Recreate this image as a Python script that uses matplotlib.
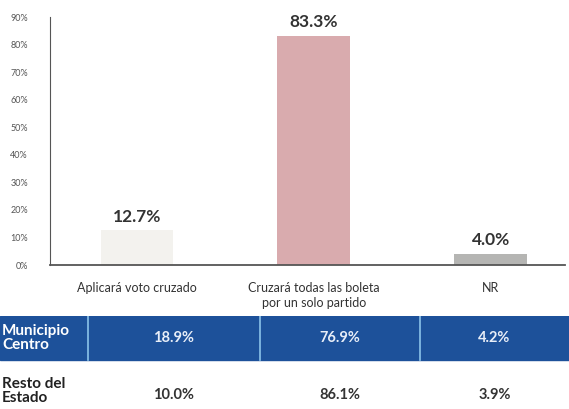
import matplotlib.pyplot as plt
from matplotlib.patches import Rectangle

plt.rcParams['font.family'] = ['Lato', 'DejaVu Sans']

# Chart data
categories = ['Aplicará voto cruzado', 'Cruzará todas las boleta\npor un solo partido', 'NR']
values = [12.7, 83.3, 4.0]
bar_colors = ['#f3f2ee', '#d9abae', '#b5b5b3']
yticks = list(range(0, 100, 10))

# Table data
row_labels = ['Municipio\nCentro', 'Resto del\nEstado']
municipio_centro = ['18.9%', '76.9%', '4.2%']
resto_estado = ['10.0%', '86.1%', '3.9%']

fig = plt.figure(figsize=(5.69, 4.09), dpi=100)

# bar chart
ax = fig.add_axes([0.088, 0.352, 0.905, 0.606])
x = range(len(categories))
ax.bar(x, values, width=0.41, color=bar_colors)
for xi, v in zip(x, values):
    ax.annotate(f'{v:.1f}%', (xi, v), xytext=(0, 4), textcoords='offset points',
                ha='center', va='bottom', fontsize=12.5, fontweight='bold', color='#333333')
ax.set_xlim(-0.49, 2.42)
ax.set_ylim(0, 90)
ax.set_yticks(yticks)
ax.set_yticklabels([f'{t}%' for t in yticks], fontsize=6.5, color='#555555')
ax.set_xticks(list(x))
ax.set_xticklabels(categories, fontsize=9, color='#333333', linespacing=1.35)
ax.tick_params(length=0, pad=16)
ax.tick_params(axis='x', pad=12)
for s in ['top', 'right']:
    ax.spines[s].set_visible(False)
ax.spines['left'].set_color('#555555')
ax.spines['bottom'].set_color('#555555')
ax.spines['bottom'].set_linewidth(1.3)

# table below
tax = fig.add_axes([0, 0, 1, 1 - 316 / 409])
tax.set_xlim(0, 569)
tax.set_ylim(93, 0)
tax.axis('off')
col_edges = [0, 88, 260, 420, 569]
tax.add_patch(Rectangle((0, 0), 569, 44, color='#1d519a'))
for xe in col_edges[1:-1]:
    tax.plot([xe, xe], [0, 44], color='#8cc4ea', lw=1.2)
tax.text(2, 22, row_labels[0], ha='left', va='center', color='white',
         fontsize=11, fontweight='bold', linespacing=1.0)
tax.text(2, 75, row_labels[1], ha='left', va='center', color='#222222',
         fontsize=11, fontweight='bold', linespacing=1.05)
for i in range(3):
    cx = (col_edges[i + 1] + col_edges[i + 2]) / 2
    tax.text(cx, 22, municipio_centro[i], ha='center', va='center', color='#e8eef8',
             fontsize=10.5, fontweight='bold')
    tax.text(cx, 79, resto_estado[i], ha='center', va='center', color='#333333',
             fontsize=10.5, fontweight='bold')

fig.savefig('out.png', dpi=100)
